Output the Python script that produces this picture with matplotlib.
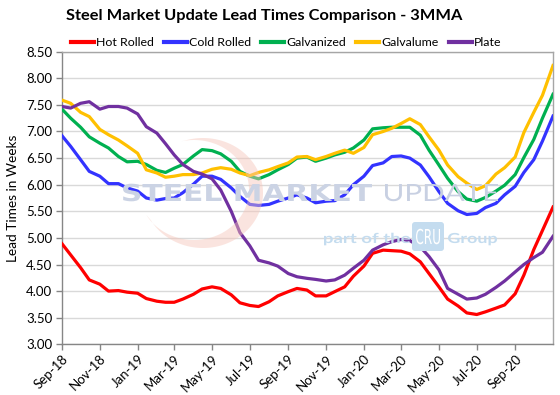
import numpy as np
import pandas as pd
import matplotlib
matplotlib.use("Agg")
import matplotlib.pyplot as plt
import matplotlib.transforms as mtransforms
from matplotlib.patches import Polygon, FancyBboxPatch, PathPatch
from matplotlib.textpath import TextPath
from matplotlib.font_manager import FontProperties

plt.rcParams['font.family'] = ['Lato', 'DejaVu Sans']

# ---- data (semi-monthly, 3-month moving average, weeks) ----
dates = pd.date_range('2018-09-01', periods=53, freq='SMS')

hot_rolled = [4.89, 4.68, 4.44, 4.21, 4.13, 4.00, 4.01, 3.98, 3.96, 3.86,
              3.81, 3.79, 3.79, 3.85, 3.94, 4.04, 4.08, 4.05, 3.93, 3.78,
              3.73, 3.71, 3.80, 3.91, 3.99, 4.05, 4.02, 3.91, 3.91, 3.99,
              4.08, 4.28, 4.47, 4.71, 4.77, 4.76, 4.75, 4.70, 4.55, 4.33,
              4.08, 3.85, 3.72, 3.59, 3.56, 3.61, 3.68, 3.74, 3.95, 4.30,
              4.78, 5.14, 5.58]
cold_rolled = [6.92, 6.72, 6.47, 6.25, 6.16, 6.02, 6.02, 5.94, 5.88, 5.75,
               5.71, 5.74, 5.75, 5.85, 6.01, 6.16, 6.16, 6.10, 5.94, 5.78,
               5.63, 5.61, 5.63, 5.69, 5.75, 5.81, 5.75, 5.66, 5.69, 5.70,
               5.81, 6.00, 6.16, 6.36, 6.41, 6.53, 6.54, 6.50, 6.37, 6.15,
               5.87, 5.65, 5.51, 5.44, 5.46, 5.57, 5.65, 5.81, 5.97, 6.23,
               6.47, 6.82, 7.29]
galvanized = [7.42, 7.25, 7.08, 6.90, 6.78, 6.69, 6.53, 6.43, 6.44, 6.38,
              6.27, 6.23, 6.31, 6.38, 6.54, 6.66, 6.64, 6.58, 6.44, 6.25,
              6.16, 6.11, 6.19, 6.28, 6.38, 6.50, 6.52, 6.44, 6.50, 6.56,
              6.61, 6.69, 6.84, 7.05, 7.07, 7.08, 7.08, 7.08, 6.93, 6.65,
              6.37, 6.12, 5.87, 5.73, 5.69, 5.76, 5.88, 5.99, 6.19, 6.51,
              6.85, 7.25, 7.70]
galvalume = [7.59, 7.53, 7.36, 7.28, 7.04, 6.94, 6.84, 6.73, 6.59, 6.28,
             6.22, 6.14, 6.16, 6.19, 6.19, 6.22, 6.29, 6.32, 6.29, 6.22,
             6.17, 6.23, 6.28, 6.34, 6.41, 6.52, 6.53, 6.47, 6.53, 6.59,
             6.65, 6.59, 6.70, 6.94, 7.00, 7.06, 7.15, 7.24, 7.13, 6.90,
             6.65, 6.37, 6.15, 6.03, 5.91, 5.98, 6.20, 6.32, 6.52, 6.98,
             7.36, 7.68, 8.24]
plate = [7.47, 7.44, 7.53, 7.56, 7.42, 7.47, 7.47, 7.44, 7.33, 7.09,
         6.97, 6.77, 6.56, 6.38, 6.25, 6.20, 6.11, 5.90, 5.50, 5.10,
         4.85, 4.58, 4.53, 4.47, 4.33, 4.27, 4.24, 4.22, 4.19, 4.21,
         4.30, 4.43, 4.58, 4.77, 4.87, 4.93, 4.97, 4.95, 4.83, 4.65,
         4.40, 4.05, 3.94, 3.85, 3.87, 3.94, 4.07, 4.19, 4.36, 4.50,
         4.63, 4.73, 5.03]

series_names = ['Hot Rolled', 'Cold Rolled', 'Galvanized', 'Galvalume', 'Plate']
series_values = [hot_rolled, cold_rolled, galvanized, galvalume, plate]
series_colors = ['#FF0000', '#3333FF', '#00B050', '#FFC000', '#7030A0']

y_ticks = [3.0, 3.5, 4.0, 4.5, 5.0, 5.5, 6.0, 6.5, 7.0, 7.5, 8.0, 8.5]
x_tick_dates = pd.date_range('2018-09-01', '2020-09-01', freq='2MS')

W, H = 560, 395
fig = plt.figure(figsize=(W / 100, H / 100), dpi=100)
ax = fig.add_axes([62 / W, 1 - 344.3 / H, (553 - 62) / W, (344.3 - 51.7) / H])

# pixel transform: x right, y down from top-left
pix = mtransforms.Affine2D().scale(1 / W, -1 / H).translate(0, 1) + fig.transFigure


def stamp(text, x_left, x_right, baseline, cap_h, family, weight, color, zorder=1):
    fp = FontProperties(family=family, weight=weight)
    tp = TextPath((0, 0), text, size=100, prop=fp)
    ext = tp.get_extents()
    hh = TextPath((0, 0), 'H', size=100, prop=fp).get_extents().y1
    sx = (x_right - x_left) / ext.width
    sy = cap_h / hh
    tr = mtransforms.Affine2D().translate(-ext.x0, 0).scale(sx, -sy).translate(x_left, baseline)
    fig.patches.append(PathPatch(tr.transform_path(tp), transform=pix, facecolor=color,
                                 edgecolor='none', zorder=zorder))


# ---- watermark ----
t = np.linspace(np.radians(-150), np.radians(105), 200)
outer = np.c_[203 + 60 * np.cos(t), 193 - 55 * np.sin(t)]
inner = np.c_[194 + 55 * np.cos(t[::-1]), 190 - 50 * np.sin(t[::-1])]
pts = np.vstack([outer, inner])
fig.patches.append(Polygon(pts, closed=True, transform=pix,
                           facecolor='#f6c4b8', edgecolor='none', alpha=0.45, zorder=0))

stamp('STEEL MARKET', 123, 372, 201, 17, 'DejaVu Sans', 'bold', '#cbd3e4')
stamp('UPDATE', 385, 498, 201, 17, 'Lato', 'normal', '#c8d0e2')
stamp('part of the', 324, 410, 243, 10, 'Lato', 'bold', '#c4dcef')
fig.patches.append(FancyBboxPatch((412, 222), 32, 29,
                                  boxstyle='round,pad=0,rounding_size=3',
                                  transform=pix, facecolor='#c4dcef',
                                  edgecolor='none', zorder=1))
stamp('CRU', 416, 440, 244, 15, 'DejaVu Sans', 'normal', 'white', zorder=2)
stamp('Group', 448, 497, 243, 10, 'Lato', 'bold', '#c4dcef')

ax.patch.set_alpha(0)

for name, vals, col in zip(series_names, series_values, series_colors):
    ax.plot(dates, vals, color=col, lw=2.3, label=name, solid_joinstyle='round', zorder=3)

ax.set_xlim(pd.Timestamp('2018-09-01'), pd.Timestamp('2020-11-01'))
ax.set_ylim(3.0, 8.5)
ax.set_yticks(y_ticks)
ax.set_yticklabels([f'{v:.2f}' for v in y_ticks])
ax.yaxis.grid(True, color='#d9d9d9', lw=1)
ax.set_axisbelow(True)

ax.set_xticks(x_tick_dates)
ax.set_xticklabels([d.strftime('%b-%y') for d in x_tick_dates])
for lab in ax.get_xticklabels():
    lab.set_rotation(45)
    lab.set_ha('right')
    lab.set_rotation_mode('anchor')

ax.tick_params(axis='both', labelsize=9.5, length=4, color='#868686', width=1,
               labelcolor='black')
ax.tick_params(axis='y', pad=3)
ax.tick_params(axis='x', pad=2)
for s in ax.spines.values():
    s.set_color('#a6a6a6')
    s.set_linewidth(1)
ax.spines['left'].set_color('#868686')
ax.spines['bottom'].set_color('#868686')

ax.set_ylabel('Lead Times in Weeks', fontsize=9.8, labelpad=5)

fig.text(264 / W, 1 - 16 / H, 'Steel Market Update Lead Times Comparison - 3MMA',
         fontsize=11.8, fontweight='bold', ha='center', va='center')

leg = fig.legend(*ax.get_legend_handles_labels(), loc='center',
                 bbox_to_anchor=(286 / W, 1 - 43 / H), ncol=5, frameon=False,
                 fontsize=8.9, handlelength=1.85, handletextpad=0.15,
                 columnspacing=0.85, borderaxespad=0)
for h in leg.legend_handles:
    h.set_linewidth(3)

fig.savefig('out.png', dpi=100)
